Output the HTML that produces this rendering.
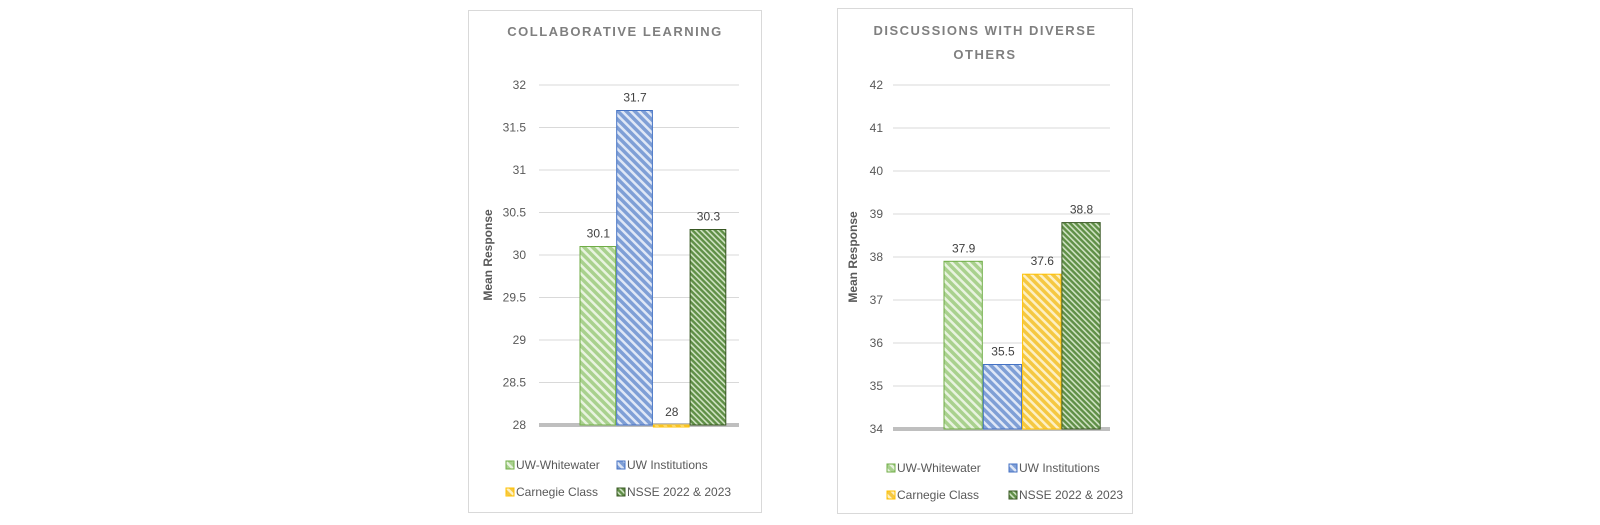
<!DOCTYPE html>
<html><head><meta charset="utf-8">
<style>
body{margin:0;background:#fff;width:1600px;height:525px;overflow:hidden;font-family:"Liberation Sans",sans-serif}
svg{position:absolute;left:0;top:0}
text{font-family:"Liberation Sans",sans-serif}
</style></head>
<body>
<svg id="svg" width="1600" height="525">
<defs>
<pattern id="p0" width="6" height="6" patternUnits="userSpaceOnUse" patternTransform="rotate(-45)"><rect width="6" height="6" fill="#a9d18e"/><rect width="2.5" height="6" fill="#e8f3df"/></pattern>
<pattern id="p1" width="6" height="6" patternUnits="userSpaceOnUse" patternTransform="rotate(-45)"><rect width="6" height="6" fill="#7f9fd6"/><rect width="2.5" height="6" fill="#dfe7f6"/></pattern>
<pattern id="p2" width="6" height="6" patternUnits="userSpaceOnUse" patternTransform="rotate(-45)"><rect width="6" height="6" fill="#f5c842"/><rect width="2.5" height="6" fill="#fdf0c4"/></pattern>
<pattern id="p3" width="4" height="4" patternUnits="userSpaceOnUse" patternTransform="rotate(-45)"><rect width="4" height="4" fill="#5f8f46"/><rect width="1.6" height="4" fill="#cfe2c2"/></pattern>
</defs>
</svg>
<script>
const seriesNames=["UW-Whitewater","UW Institutions","Carnegie Class","NSSE 2022 & 2023"];
const collabValues=[30.1,31.7,28,30.3];
const collabTicks=[28,28.5,29,29.5,30,30.5,31,31.5,32];
const diverseValues=[37.9,35.5,37.6,38.8];
const diverseTicks=[34,35,36,37,38,39,40,41,42];
const strokes=["#70ad47","#4472c4","#ffc000","#385723"];
const svg=document.getElementById('svg');
const NS="http://www.w3.org/2000/svg";
function mk(tag,attrs,parent){const e=document.createElementNS(NS,tag);for(const k in attrs)e.setAttribute(k,attrs[k]);(parent||svg).appendChild(e);return e;}
function chart(cfg,values,ticks){
  const g=mk('g',{});
  
  
  const fr=mk('rect',{x:cfg.fx,y:cfg.fy,width:cfg.fw,height:cfg.fh,fill:'#fff',stroke:'#d9d9d9'},g);
  
  
  cfg.title.forEach((t,i)=>{
    const tt=mk('text',{x:cfg.fx+cfg.fw/2,y:cfg.ty+i*24,'text-anchor':'middle','font-size':13,'font-weight':'bold',fill:'#7f7f7f','letter-spacing':'1.5'},g);
    tt.textContent=t;
    
    
  });
  const mn=ticks[0],mx=ticks[ticks.length-1];
  const y=v=>cfg.y0+(v-mn)/(mx-mn)*(cfg.y1-cfg.y0);
  ticks.forEach(t=>{
    const l=mk('line',{x1:cfg.gx0,x2:cfg.gx1,y1:y(t),y2:y(t),stroke:t===mn?'#bfbfbf':'#d9d9d9','stroke-width':t===mn?4:1},g);
    
    
    const tx=mk('text',{x:cfg.lx,y:y(t)+4,'text-anchor':'end','font-size':12,fill:'#595959'},g);
    tx.textContent=t;
    
    
  });
  const at=mk('text',{x:0,y:0,transform:`translate(${cfg.ax},${(cfg.y0+cfg.y1)/2}) rotate(-90)`,'text-anchor':'middle','font-size':12,'font-weight':'bold',fill:'#595959'},g);
  at.textContent='Mean Response';
  
  
  values.forEach((v,i)=>{
    const x=cfg.bx+i*cfg.bw, top=y(v), bot=y(mn);
    const b=mk('rect',{x:x,y:Math.min(top,bot),width:cfg.bw-1,height:Math.max(Math.abs(bot-top),2),fill:`url(#p${i})`,stroke:strokes[i],'stroke-width':1},g);
    
    
    const lb=mk('text',{x:x+cfg.bw/2,y:top-9,'text-anchor':'middle','font-size':12,fill:'#404040'},g);
    lb.textContent=v;
    
    
  });
  seriesNames.forEach((n,i)=>{
    const lx=cfg.legx[i%2], ly=cfg.legy[Math.floor(i/2)];
    const sw=mk('rect',{x:lx,y:ly-4,width:8,height:8,fill:`url(#p${i})`,stroke:strokes[i]},g);
    
    
    const lt=mk('text',{x:lx+10,y:ly+4,'font-size':12,fill:'#595959'},g);
    lt.textContent=n;
    
    
  });
}
chart({name:'collaborative-learning-chart',fx:468.5,fy:10.5,fw:293,fh:502,title:['COLLABORATIVE LEARNING'],ty:36,
  y0:425,y1:85,gx0:539,gx1:739,lx:526,ax:492,bx:580,bw:36.7,legx:[506,617],legy:[465,492]},collabValues,collabTicks);
chart({name:'discussions-diverse-others-chart',fx:837.5,fy:8.5,fw:295,fh:505,title:['DISCUSSIONS WITH DIVERSE','OTHERS'],ty:35,
  y0:429,y1:85,gx0:893,gx1:1110,lx:883,ax:857,bx:944,bw:39.3,legx:[887,1009],legy:[468,495]},diverseValues,diverseTicks);
</script>
</body></html>
